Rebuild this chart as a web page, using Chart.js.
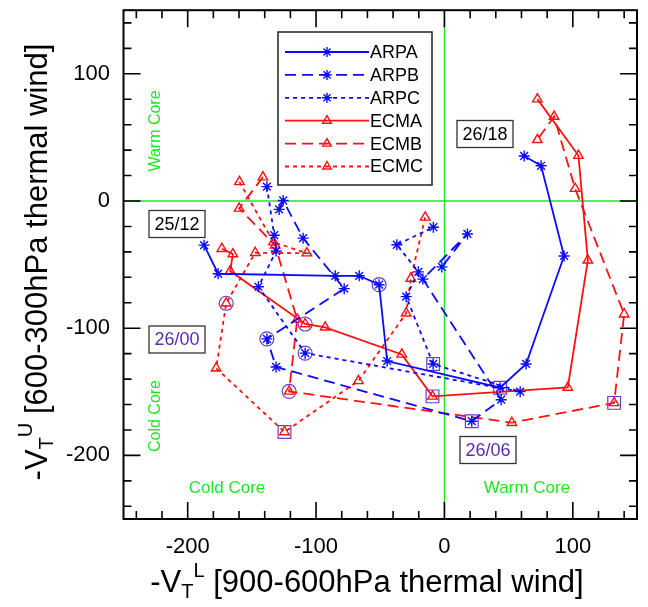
<!DOCTYPE html>
<html>
<head>
<meta charset="utf-8">
<script src="https://cdn.jsdelivr.net/npm/chart.js@4.4.0/dist/chart.umd.min.js"></script>
<style>
  html, body { margin: 0; padding: 0; background: #fff; }
</style>
</head>
<body>
<canvas id="phase" width="648" height="607"></canvas>
<script>
// tick labels
const xTickLabels = [-200, -100, 0, 100];
const yTickLabels = [-200, -100, 0, 100];

// series values
const arpaX = [-187.2, -176.3, -85.1, -66.4, -50.9, -44.6, 43.4, 63.6, 93.2, 75.3, 62.1];
const arpaY = [-34.7, -57.2, -58.8, -58.8, -65.8, -125.8, -146.8, -128.1, -43.2, 27.7, 35.4];

const arpbX = [-128.8, -125.6, -110.1, -78.1, -138.3, -131.1, 21.3, 44.2, -16.8, 17.9, -2.0];
const arpbY = [-6.6, 0.4, -29.2, -68.9, -108.4, -130.5, -173.1, -156.2, -61.4, -25.9, -51.8];

const arpcX = [-138.3, -132.6, -131.1, -144.9, -108.5, 59.0, -8.8, -29.8, -20.3, -37.1, -8.6];
const arpcY = [11.3, -26.9, -39.3, -67.4, -119.6, -149.9, -128.1, -75.2, -55.7, -34.4, -20.6];

const ecmaX = [-173.4, -164.8, -166.9, -108.5, -92.9, -33.2, -9.3, 96.1, 111.7, 104.4, 72.4];
const ecmaY = [-37.5, -41.7, -55.1, -96.7, -99.3, -120.6, -153.6, -146.6, -46.6, 35.7, 80.1];

const ecmbX = [-141.4, -159.9, -131.9, -114.7, -121.0, 52.5, 132.2, 140.0, 101.8, 85.4, 72.4];
const ecmbY = [18.8, -5.8, -34.9, -93.1, -149.7, -174.3, -158.7, -89.0, 9.7, 66.4, 48.1];

const ecmcX = [-159.7, -133.2, -107.2, -147.4, -170.0, -177.8, -124.6, -67.0, -29.8, -26.2, -15.0];
const ecmcY = [15.0, -32.3, -41.0, -40.7, -80.4, -131.5, -181.6, -141.4, -88.2, -60.9, -12.9];

// which point of each series is 26/00 (circle) and 26/06 (square)
const circleIdx = [4, 4, 4, 3, 4, 4];
const squareIdx = [6, 6, 6, 6, 6, 6];

const BLUE = '#0a0aff';
const RED = '#ff1010';
const PURPLE = '#6a3cc8';
const GREEN = '#1ee61e';
const FONT = '"Liberation Sans", Arial, Helvetica, sans-serif';

const series = [
  { name: 'ARPA', x: arpaX, y: arpaY, color: BLUE, dash: [], marker: 'star' },
  { name: 'ARPB', x: arpbX, y: arpbY, color: BLUE, dash: [11, 6], marker: 'star' },
  { name: 'ARPC', x: arpcX, y: arpcY, color: BLUE, dash: [4, 4], marker: 'star' },
  { name: 'ECMA', x: ecmaX, y: ecmaY, color: RED, dash: [], marker: 'triangle' },
  { name: 'ECMB', x: ecmbX, y: ecmbY, color: RED, dash: [11, 6], marker: 'triangle' },
  { name: 'ECMC', x: ecmcX, y: ecmcY, color: RED, dash: [4, 4], marker: 'triangle' }
];

const pts = (xs, ys) => xs.map((v, i) => ({ x: v, y: ys[i] }));

const datasets = series.map(s => ({
  label: s.name,
  data: pts(s.x, s.y),
  showLine: true,
  borderColor: s.color,
  backgroundColor: 'rgba(0,0,0,0)',
  borderWidth: 1.8,
  borderDash: s.dash,
  pointStyle: s.marker,
  pointRadius: 5.5,
  pointBorderWidth: 1.4,
  pointBorderColor: s.color,
  pointBackgroundColor: 'rgba(0,0,0,0)'
}));

datasets.push({
  label: '26/00',
  data: series.map((s, i) => ({ x: s.x[circleIdx[i]], y: s.y[circleIdx[i]] })),
  showLine: false,
  pointStyle: 'circle',
  pointRadius: 7,
  pointBorderWidth: 1.2,
  pointBorderColor: PURPLE,
  pointBackgroundColor: 'rgba(0,0,0,0)'
});
datasets.push({
  label: '26/06',
  data: series.map((s, i) => ({ x: s.x[squareIdx[i]], y: s.y[squareIdx[i]] })),
  showLine: false,
  pointStyle: 'rect',
  pointRadius: 9,
  pointBorderWidth: 1.2,
  pointBorderColor: PURPLE,
  pointBackgroundColor: 'rgba(0,0,0,0)'
});

function boxLabel(ctx, text, cx, cy, color){
  ctx.save();
  ctx.font = '18px ' + FONT;
  ctx.fillStyle = '#fff';
  ctx.fillRect(cx - 28, cy - 13.5, 56, 27);
  ctx.strokeStyle = '#333';
  ctx.lineWidth = 1.3;
  ctx.strokeRect(cx - 28, cy - 13.5, 56, 27);
  ctx.fillStyle = color;
  ctx.textAlign = 'center';
  ctx.textBaseline = 'middle';
  ctx.fillText(text, cx, cy + 1);
  ctx.restore();
}

// text like -V_T^L [....]
function axisTitle(ctx, sup, rest){
  const big = 31, small = 20;
  const parts = [
    { t: '-V', f: big, dy: 0 },
    { t: 'T', f: small, dy: 9 },
    { t: sup, f: small, dy: -12 },
    { t: ' ' + rest, f: big, dy: 0 }
  ];
  let w = 0;
  parts.forEach(p => { ctx.font = p.f + 'px ' + FONT; p.w = ctx.measureText(p.t).width; w += p.w; });
  let x = -w / 2;
  ctx.textBaseline = 'middle';
  ctx.textAlign = 'left';
  parts.forEach(p => {
    ctx.font = p.f + 'px ' + FONT;
    ctx.fillText(p.t, x, p.dy);
    x += p.w;
  });
}

const decor = {
  id: 'decor',
  beforeDatasetsDraw(chart){
    const { ctx, chartArea: a, scales: { x, y } } = chart;
    const x0 = x.getPixelForValue(0), y0 = y.getPixelForValue(0);
    ctx.save();
    ctx.strokeStyle = GREEN;
    ctx.lineWidth = 1.3;
    ctx.beginPath();
    ctx.moveTo(x0, a.top); ctx.lineTo(x0, a.bottom);
    ctx.moveTo(a.left, y0); ctx.lineTo(a.right, y0);
    ctx.stroke();

    ctx.fillStyle = GREEN;
    ctx.font = '17px ' + FONT;
    ctx.textAlign = 'center';
    ctx.textBaseline = 'middle';
    ctx.fillText('Cold Core', 227, 488);
    ctx.fillText('Warm Core', 527, 488);
    ctx.font = '16px ' + FONT;
    ctx.save(); ctx.translate(156, 131); ctx.rotate(-Math.PI / 2); ctx.fillText('Warm Core', 0, 0); ctx.restore();
    ctx.save(); ctx.translate(156, 416); ctx.rotate(-Math.PI / 2); ctx.fillText('Cold Core', 0, 0); ctx.restore();
    ctx.restore();
  },
  afterDatasetsDraw(chart){
    const { ctx, chartArea: a, scales: { x, y } } = chart;
    ctx.save();
    // frame
    ctx.strokeStyle = '#000';
    ctx.lineWidth = 2;
    ctx.strokeRect(a.left, a.top, a.right - a.left, a.bottom - a.top);
    // ticks every 20, long ones at labelled values
    ctx.lineWidth = 1.6;
    ctx.beginPath();
    for (let v = -240; v <= 140; v += 20) {
      const len = xTickLabels.includes(v) ? 17 : 8;
      const px = x.getPixelForValue(v);
      ctx.moveTo(px, a.bottom); ctx.lineTo(px, a.bottom - len);
      ctx.moveTo(px, a.top); ctx.lineTo(px, a.top + len);
      const py = y.getPixelForValue(v);
      const ly = yTickLabels.includes(v) ? 17 : 8;
      ctx.moveTo(a.left, py); ctx.lineTo(a.left + ly, py);
      ctx.moveTo(a.right, py); ctx.lineTo(a.right - ly, py);
    }
    ctx.stroke();

    ctx.fillStyle = '#000';
    ctx.font = '22px ' + FONT;
    ctx.textAlign = 'center';
    ctx.textBaseline = 'middle';
    xTickLabels.forEach(v => ctx.fillText(String(v), x.getPixelForValue(v), 547));
    ctx.textAlign = 'right';
    yTickLabels.forEach(v => ctx.fillText(String(v), 110, y.getPixelForValue(v)));

    ctx.save(); ctx.translate(367, 583); axisTitle(ctx, 'L', '[900-600hPa thermal wind]'); ctx.restore();
    ctx.save(); ctx.translate(38, 262); ctx.rotate(-Math.PI / 2); axisTitle(ctx, 'U', '[600-300hPa thermal wind]'); ctx.restore();

    // legend
    ctx.fillStyle = '#fff';
    ctx.fillRect(278, 32, 154, 153);
    ctx.strokeStyle = '#222';
    ctx.lineWidth = 1.5;
    ctx.strokeRect(278, 32, 154, 153);
    series.forEach((s, i) => {
      const ly = 52 + i * 22.9;
      ctx.strokeStyle = s.color;
      ctx.lineWidth = 1.8;
      ctx.setLineDash(s.dash);
      ctx.beginPath(); ctx.moveTo(285, ly); ctx.lineTo(369, ly); ctx.stroke();
      ctx.setLineDash([]);
      ctx.lineWidth = 1.4;
      ctx.fillStyle = 'rgba(0,0,0,0)';
      Chart.helpers.drawPoint(ctx, { pointStyle: s.marker, radius: 5, borderWidth: 1.4, rotation: 0 }, 327, ly);
      ctx.fillStyle = '#000';
      ctx.font = '18px ' + FONT;
      ctx.textAlign = 'left';
      ctx.textBaseline = 'middle';
      ctx.fillText(s.name, 370, ly + 1);
    });
    ctx.restore();

    boxLabel(ctx, '25/12', 177, 224, '#000');
    boxLabel(ctx, '26/18', 485, 134, '#000');
    boxLabel(ctx, '26/00', 177, 339.5, '#5a2ab8');
    boxLabel(ctx, '26/06', 488, 450, '#5a2ab8');
  }
};

new Chart(document.getElementById('phase'), {
  type: 'scatter',
  data: { datasets },
  options: {
    responsive: false,
    animation: false,
    devicePixelRatio: 1,
    layout: { padding: { left: 123.5, top: 6, right: 11, bottom: 88 } },
    plugins: { legend: { display: false }, tooltip: { enabled: false } },
    scales: {
      x: { type: 'linear', min: -250, max: 150, display: false },
      y: { type: 'linear', min: -250, max: 150, display: false }
    }
  },
  plugins: [decor]
});
</script>
</body>
</html>
